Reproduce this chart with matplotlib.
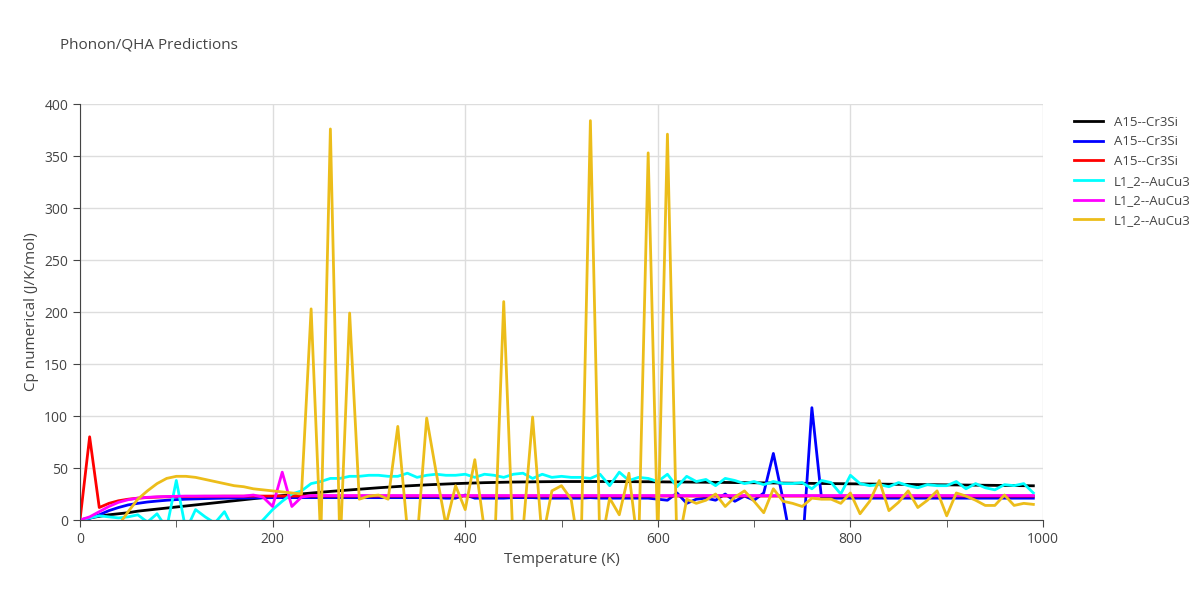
import numpy as np
import matplotlib.pyplot as plt

# temperatures 0..990 K, step 10
T = np.arange(0, 1000, 10)

# A15--Cr3Si (black), smooth slow rise
cr_black = [0, 2, 3.5, 5, 6, 7, 8.5, 9.5, 10.5, 11.5, 12.5, 13.5, 14.5, 15.5, 16.5, 17.5, 18.5, 19.5, 20.5, 21.5,
            22.5, 23.5, 24.3, 25.1, 25.9, 26.7, 27.5, 28.2, 28.9, 29.6, 30.3, 31, 31.6, 32.2, 32.8, 33.3, 33.8, 34.2, 34.6, 35,
            35.3, 35.6, 35.9, 36.1, 36.3, 36.5, 36.6, 36.7, 36.8, 36.9, 37, 37, 37, 37, 37, 37, 36.9, 36.9, 36.8, 36.8,
            36.7, 36.6, 36.6, 36.5, 36.4, 36.3, 36.2, 36.1, 36, 35.9, 35.8, 35.7, 35.6, 35.5, 35.4, 35.3, 35.2, 35.1, 35, 34.9,
            34.8, 34.7, 34.6, 34.5, 34.4, 34.3, 34.2, 34.1, 34, 33.9, 33.8, 33.7, 33.6, 33.5, 33.4, 33.3, 33.2, 33.1, 33, 32.9]

# A15--Cr3Si (blue)
cr_blue = [0, 1.5, 5, 9, 12, 14.5, 16, 17.3, 18.2, 19, 19.6, 20, 20.3, 20.6, 20.8, 21, 21.1, 21.2, 21.3, 21.4,
           21.5, 21.5, 21.5, 21.5, 21.5, 21.5, 21.5, 21.5, 21.5, 21.5, 21.5, 21.5, 21.5, 21.5, 21.5, 21.5, 21.5, 21.5, 21, 21,
           24, 21, 21, 21, 21, 21.5, 21.5, 21.5, 21, 21, 21, 21, 21, 21.5, 21, 21, 21, 21, 21, 21,
           20, 19, 26, 16, 20, 21, 19, 25, 18, 23, 19, 26, 64, 20, -30, -30, 108, 21, 21, 21,
           21, 21, 21, 21, 21, 21, 21, 21, 21, 21, 21, 21, 21, 21, 21, 21, 21, 21, 21, 21]

# A15--Cr3Si (red)
cr_red = [0, 80, 12, 16, 18.5, 20, 21, 21.6, 22, 22.3, 22.5, 22.6, 22.7, 22.8, 22.8, 22.9, 22.9, 22.9, 23, 23,
          23, 23, 23, 23, 23, 23, 23, 23, 23, 23, 23, 23, 23, 23, 23, 23, 23, 23, 23, 23,
          23, 23, 23, 23, 23, 23, 23, 23, 23, 23, 23, 23, 23, 23, 23, 23, 23, 23, 23, 23,
          23, 23, 23, 23, 23, 23, 23, 23, 23, 23, 23, 23, 23, 23, 23, 23, 23, 23, 23, 23,
          23, 23, 23, 23, 23, 23, 23, 23, 23, 23, 23, 23, 23, 23, 23, 23, 23, 23, 23, 23]

# L1_2--AuCu3 (cyan)
au_cyan = [0, 2, 4, 3, 2, 3, 5, -2, 6, -8, 38, -10, 10, 3, -3, 8, -10, -10, -10, 0,
           10, 18, 25, 28, 35, 37, 40, 40, 42, 42, 43, 43, 42, 42, 45, 41, 43, 44, 43, 43,
           44, 41, 44, 43, 41, 44, 45, 40, 44, 41, 42, 41, 41, 40, 44, 33, 46, 38, 41, 40,
           37, 44, 32, 42, 37, 39, 33, 40, 38, 35, 37, 34, 37, 35, 35, 36, 30, 38, 36, 25,
           43, 35, 33, 34, 32, 36, 33, 31, 34, 33, 33, 37, 30, 35, 31, 29, 34, 33, 35, 26]

# L1_2--AuCu3 (magenta)
au_mag = [0, 3, 8, 13, 17, 19.5, 21, 21.8, 22.3, 22.6, 22.8, 23, 23, 23, 23, 23, 23, 23, 24, 22,
          13, 46, 13, 22, 23.5, 23.5, 23.5, 23.5, 23.5, 23.5, 23.5, 23.5, 23.5, 23.5, 23.5, 23.5, 23.5, 23.5, 23.5, 23.5,
          23.5, 23.5, 23.5, 23.5, 23.5, 23.5, 23.5, 23.5, 23.5, 23.5, 23.5, 23.5, 23.5, 23.5, 23.5, 23.5, 23.5, 23.5, 23.5, 23.5,
          23.5, 23.5, 23.5, 23.5, 23.5, 23.5, 23.5, 23.5, 23.5, 23.5, 23.5, 23.5, 23.5, 23.5, 23.5, 23.5, 23.5, 23.5, 23.5, 23.5,
          23.5, 23.5, 23.5, 23.5, 23.5, 23.5, 23.5, 23.5, 23.5, 23.5, 23.5, 23.5, 23.5, 23.5, 23.5, 23.5, 23.5, 23.5, 23.5, 23.5]

# L1_2--AuCu3 (yellow)
au_yel = [-20, -20, -15, -10, -5, 8, 20, 28, 35, 40, 42, 42, 41, 39, 37, 35, 33, 32, 30, 29,
          28, 27, 26, 25, 203, -20, 376, -30, 199, 20, 23, 24, 20, 90, -10, -20, 98, 45, -5, 33,
          10, 58, -10, -40, 210, -30, -10, 99, -20, 28, 33, 20, -40, 384, -30, 21, 5, 45, -30, 353,
          -20, 371, -30, 20, 16, 19, 25, 13, 22, 28, 18, 7, 30, 18, 16, 13, 21, 20, 20, 16,
          26, 6, 18, 38, 9, 17, 28, 12, 19, 28, 4, 26, 23, 19, 14, 14, 24, 14, 16, 15]

series = [
    ("A15--Cr3Si", cr_black, "black"),
    ("A15--Cr3Si", cr_blue, "#0000ff"),
    ("A15--Cr3Si", cr_red, "#ff0000"),
    ("L1_2--AuCu3", au_cyan, "#00ffff"),
    ("L1_2--AuCu3", au_mag, "#ff00ff"),
    ("L1_2--AuCu3", au_yel, "#ecbd1a"),
]

plt.rcParams["font.family"] = ["Open Sans", "DejaVu Sans"]
fig = plt.figure(figsize=(12, 6), dpi=100)
ax = fig.add_axes([80 / 1200, 80 / 600, 963 / 1200, 416 / 600])

for name, vals, col in series:
    ax.plot(T, vals, color=col, linewidth=2, label=name)

ax.set_xlim(0, 1000)
ax.set_ylim(0, 400)
ax.set_xticks(range(0, 1001, 200))
ax.set_xticks(range(0, 1001, 100), minor=True)
ax.set_yticks(range(0, 401, 50))
ax.grid(True, which="major", color="#dddddd", linewidth=1)
ax.set_axisbelow(True)
for s in ["top", "right"]:
    ax.spines[s].set_visible(False)
for s in ["left", "bottom"]:
    ax.spines[s].set_color("#444444")
ax.tick_params(colors="#444444", labelsize=10, direction="out", length=5)
ax.tick_params(which="minor", colors="#444444", length=5)
ax.set_xlabel("Temperature (K)", color="#444444", fontsize=11)
ax.set_ylabel("Cp numerical (J/K/mol)", color="#444444", fontsize=11)

fig.text(60 / 1200, 1 - 45 / 600, "Phonon/QHA Predictions", fontsize=11, color="#444444", va="center")
ax.legend(loc="upper left", bbox_to_anchor=(1.02, 1.0), frameon=False, fontsize=9.5,
          handlelength=2.2, labelcolor="#444444")

fig.savefig("out.png", dpi=100)
